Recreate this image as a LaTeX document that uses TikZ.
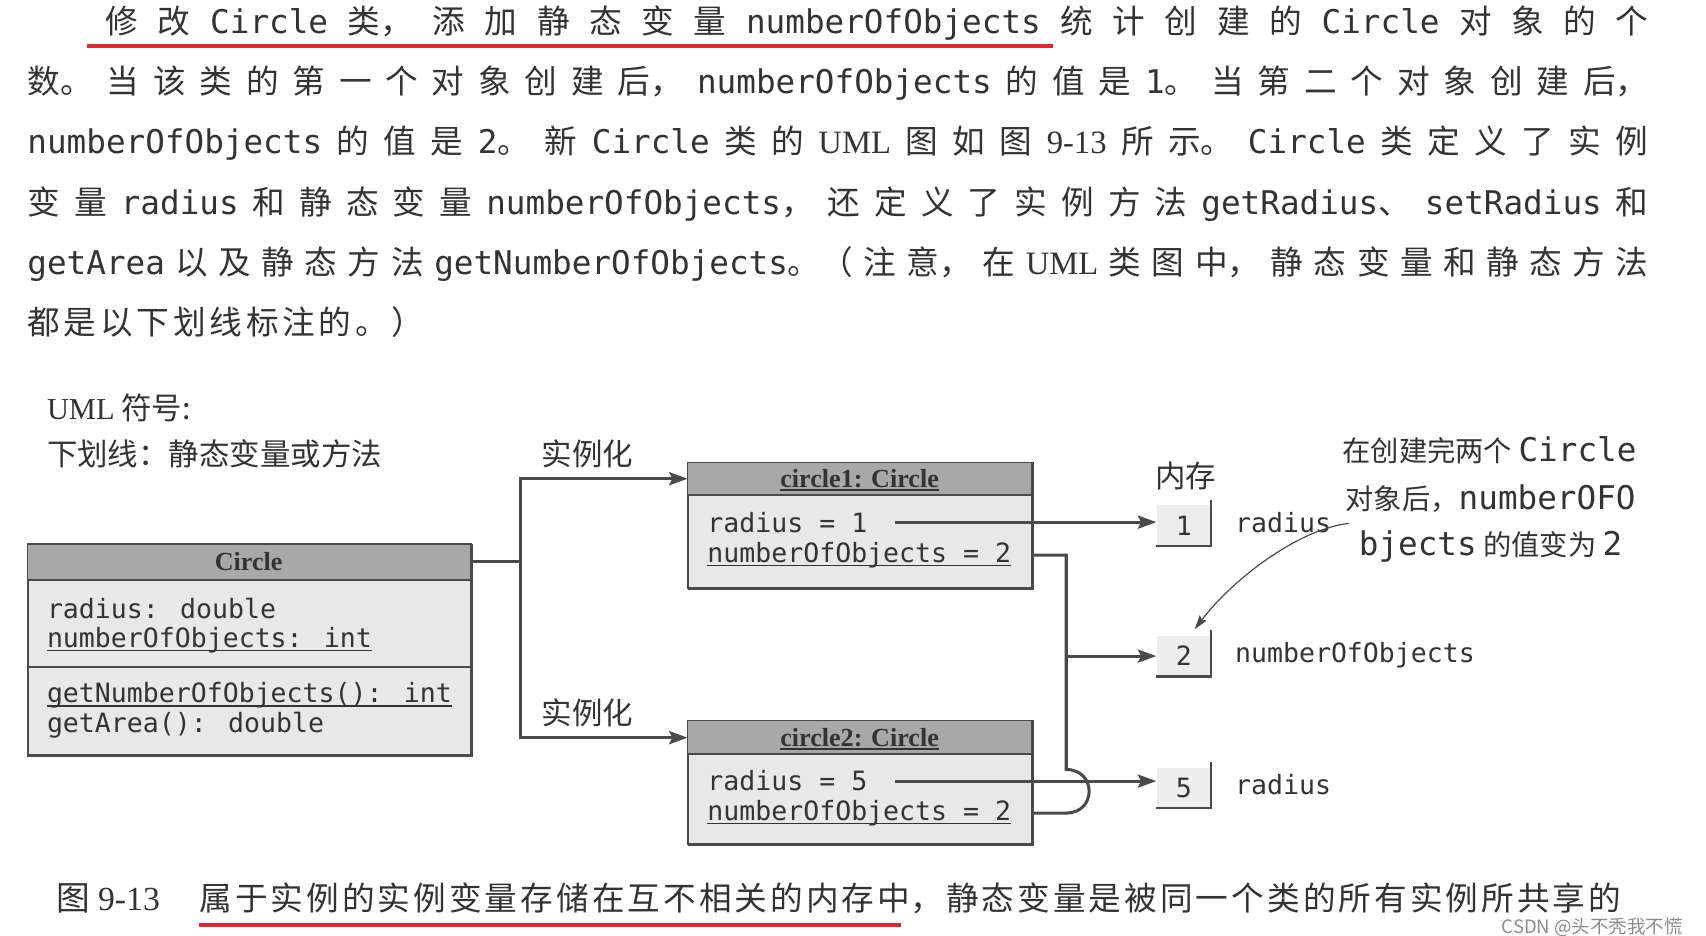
\documentclass[tikz,border=0pt]{standalone}
\usepackage{fontspec}
\setmainfont{Noto Sans CJK SC}
\newfontfamily\mono{DejaVu Sans Mono}
\newfontfamily\ser{Liberation Serif}
\usetikzlibrary{arrows.meta}
\definecolor{inkc}{HTML}{333333}
\definecolor{edgec}{HTML}{4A4A4A}
\definecolor{boxfill}{HTML}{E8E8E8}
\definecolor{hdrfill}{HTML}{A8A8A8}
\definecolor{cellfill}{HTML}{EDEDED}
\definecolor{redc}{HTML}{E3262B}
\makeatletter
\def\spr@A#1{\ifx\relax#1\else\hfil{#1}\expandafter\spr@A\fi}
\def\spr@B#1{{#1}\spr@A}
\newcommand\spreadto[2]{\makebox[#1][s]{\spr@B#2\relax}}
\makeatother
\newsavebox\ulbox
\newcommand\ulx[2][3.5pt]{\sbox\ulbox{#2}\rlap{\rule[-#1]{\wd\ulbox}{1.3pt}}\usebox\ulbox}
\begin{document}
\begin{tikzpicture}[x=1pt,y=-1pt,
  every node/.style={inner sep=0pt, text=inkc},
  body/.style={font=\fontsize{30}{36}\selectfont, anchor=base west},
  cjkd/.style={font=\fontsize{28}{32}\selectfont},
  code/.style={font=\mono\fontsize{24.4}{28}\selectfont, anchor=base west},
  title/.style={font=\ser\bfseries\fontsize{24}{28}\selectfont, anchor=base},
  classbox/.style={rectangle, anchor=north west, fill=boxfill, draw=edgec, line width=1.2pt},
  cell/.style={rectangle, fill=cellfill, minimum width=50pt, minimum height=37pt, font=\mono\fontsize{24.4}{28}\selectfont},
  conn/.style={draw=edgec, line width=2.8pt},
  arr/.style={conn, -{Stealth[length=17pt,width=12pt,inset=3pt]}},
  note/.style={draw=edgec, line width=1.1pt, -{Stealth[length=13pt,width=8pt,inset=2pt]}},
  redline/.style={draw=redc, line width=3.5pt},
  notetext/.style={font=\fontsize{26}{30}\selectfont, anchor=base},
]
\useasboundingbox[fill=white] (0,0) rectangle (1568,860);

% ---- body text ----
\node[body] (t1) at (97,31) {\spreadto{1418pt}{修 改 {\mono Circle} {类，} 添 加 静 态 变 量 {\mono numberOfObjects} 统 计 创 建 的 {\mono Circle} 对 象 的 个}};
\node[body] (t2) at (25,86) {\spreadto{1490pt}{{数。} 当 该 类 的 第 一 个 对 象 创 建 {后，} {\mono numberOfObjects} 的 值 是 {{\mono 1}。} 当 第 二 个 对 象 创 建 {后，}}};
\node[body] (t3) at (25,141) {\spreadto{1490pt}{{\mono numberOfObjects} 的 值 是 {{\mono 2}。} 新 {\mono Circle} 类 的 {\ser UML} 图 如 图 {\ser 9-13} 所 {示。} {\mono Circle} 类 定 义 了 实 例}};
\node[body] (t4) at (25,197) {\spreadto{1490pt}{变 量 {\mono radius} 和 静 态 变 量 {{\mono numberOfObjects}，} 还 定 义 了 实 例 方 法 {{\mono getRadius}、} {\mono setRadius} 和}};
\node[body] (t5) at (25,252) {\spreadto{1490pt}{{\mono getArea} 以 及 静 态 方 法 {{\mono getNumberOfObjects}。（} 注 {意，} 在 {\ser UML} 类 图 {中，} 静 态 变 量 和 静 态 方 法}};
\node[body] (t6) at (25,307) {\spreadto{365pt}{都 是 以 下 划 线 标 注 的 。 ）}};
\draw[redline] (80,42) -- (968,42);

% ---- legend ----
\node[cjkd, anchor=base west] (uml) at (43,386) {{\ser UML} 符号:};
\node[cjkd, anchor=base west] (ul) at (43,428) {下划线：静态变量或方法};

% ---- Circle class ----
\node[classbox, minimum width=407pt, minimum height=193pt] (circ) at (25,500) {};
\fill[hdrfill] (circ.north west) rectangle ([yshift=-33pt]circ.north east);
\draw[edgec, line width=1.2pt] (circ.north west) rectangle (circ.south east);
\draw[edgec, line width=2pt] ([yshift=-33pt]circ.north west) -- ([yshift=-33pt]circ.north east);
\draw[edgec, line width=1.6pt] ([yshift=-113pt]circ.north west) -- ([yshift=-113pt]circ.north east);
\draw[edgec, line width=2.6pt] (circ.north east) -- (circ.south east) -- (circ.south west);
\node[title] (circT) at (228.5,524) {Circle};
\node[code] (a1) at (43,568) {radius: double};
\node[code] (a2) at (43,595) {\ulx{numberOfObjects: int}};
\node[code] (meth1) at (43,646) {\ulx{getNumberOfObjects(): int}};
\node[code] (meth2) at (43,673) {getArea(): double};

% ---- circle1 ----
\node[classbox, minimum width=316pt, minimum height=115pt] (c1) at (632,425) {};
\fill[hdrfill] (c1.north west) rectangle ([yshift=-30pt]c1.north east);
\draw[edgec, line width=1.2pt] (c1.north west) rectangle (c1.south east);
\draw[edgec, line width=2pt] ([yshift=-30pt]c1.north west) -- ([yshift=-30pt]c1.north east);
\draw[edgec, line width=2.6pt] (c1.north east) -- (c1.south east) -- (c1.south west);
\node[title] (c1T) at (790,448) {\ulx[3pt]{circle1: Circle}};
\node[code] (r1) at (650,489) {radius = 1};
\node[code] (n1) at (650,517) {\ulx{numberOfObjects = 2}};

% ---- circle2 ----
\node[classbox, minimum width=316pt, minimum height=113pt] (c2) at (632,662) {};
\fill[hdrfill] (c2.north west) rectangle ([yshift=-31pt]c2.north east);
\draw[edgec, line width=1.2pt] (c2.north west) rectangle (c2.south east);
\draw[edgec, line width=2pt] ([yshift=-31pt]c2.north west) -- ([yshift=-31pt]c2.north east);
\draw[edgec, line width=2.6pt] (c2.north east) -- (c2.south east) -- (c2.south west);
\node[title] (c2T) at (790,686) {\ulx[3pt]{circle2: Circle}};
\node[code] (r2) at (650,727) {radius = 5};
\node[code] (n2) at (650,754) {\ulx{numberOfObjects = 2}};

% ---- instantiation ----
\coordinate (trunk) at (478,516);
\draw[conn] ([yshift=-16pt]circ.north east) -- (trunk);
\draw[arr] (trunk) |- ([yshift=-15pt]c1.north west);
\draw[arr] (trunk) |- ([yshift=-16pt]c2.north west);
\node[cjkd, anchor=base] (inst1) at (540,428) {实例化};
\node[cjkd, anchor=base] (inst2) at (540,666) {实例化};

% ---- memory ----
\node[cjkd, anchor=base] (mem) at (1090,448) {内存};
\node[cell] (m1) at (1088,483) {1};
\node[cell] (m2) at (1088,603) {2};
\node[cell] (m5) at (1088,724) {5};
\foreach \c in {m1,m2,m5}
  \draw[edgec, line width=2pt] ([yshift=5pt]\c.north east) -- (\c.south east) -- (\c.south west);
\node[code] (l1) at (1135,489) {radius};
\node[code] (l2) at (1135,609) {numberOfObjects};
\node[code] (l5) at (1135,730) {radius};

\draw[arr] ([xshift=25pt]r1.east) -- (r1.east -| m1.west);
\draw[arr] ([xshift=25pt]r2.east) -- (r2.east -| m5.west);

\coordinate (tx) at (980,0);
\coordinate (hopB) at (tx |- n2.east);
\coordinate (hopA) at ([yshift=40pt]hopB);
\draw[conn] (n1.east -| c1.east) -| (hopA) .. controls ([xshift=28pt]hopA) and ([xshift=28pt]hopB) .. (hopB) -- (n2.east -| c2.east);
\coordinate (bus) at (tx |- m2.west);
\draw[arr] (bus) -- (m2.west);

% ---- annotation ----
\node[notetext] (nt1) at (1369,424) {在创建完两个 {\mono\fontsize{30}{34}\selectfont Circle}};
\node[notetext] (nt2) at (1370,468) {对象后，{\mono\fontsize{30}{34}\selectfont numberOFO}};
\node[notetext] (nt3) at (1370,511) {{\mono\fontsize{30}{34}\selectfont bjects} 的值变为 {\mono\fontsize{30}{34}\selectfont 2}};
\coordinate (ns) at (1240,481);
\draw[note] (ns) .. controls (1195,486) and (1135,530) .. ([xshift=10pt,yshift=6pt]m2.north);

% ---- caption ----
\node[body, font=\fontsize{31}{36}\selectfont] (fig) at (52,837) {图 {\ser 9-13}};
\node[body] (cap) at (183,837) {\spreadto{1307pt}{属 于 实 例 的 实 例 变 量 存 储 在 互 不 相 关 的 内 存 {中，} 静 态 变 量 是 被 同 一 个 类 的 所 有 实 例 所 共 享 的}};
\draw[redline] (183,850) -- (828,850);
\node[anchor=base west, font=\fontsize{17}{19}\selectfont, text=black!45] (wm) at (1380,858) {CSDN @头不秃我不慌};
\end{tikzpicture}
\end{document}
